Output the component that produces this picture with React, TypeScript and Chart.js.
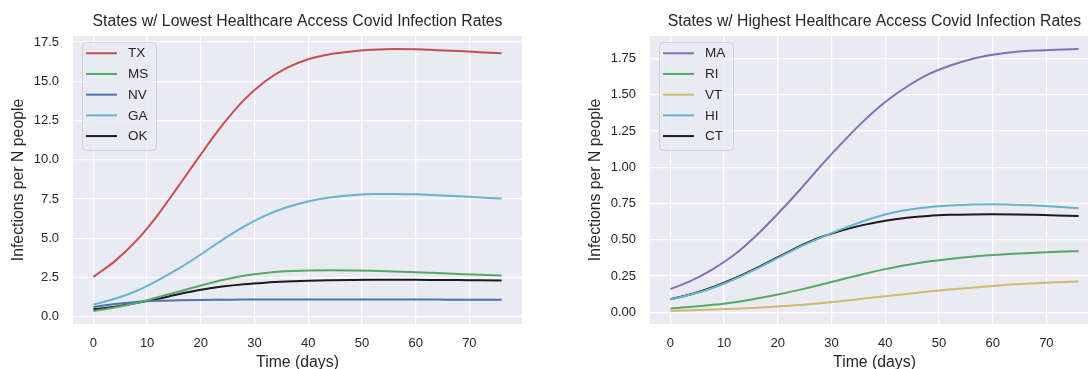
import React, { useEffect, useRef } from "react";
import { Chart, registerables } from "chart.js";

Chart.register(...registerables);

const FONT = "'Liberation Sans', Arial, sans-serif";
const TEXT = "#262626";

// Time axis (days)
const days = [0, 4, 8, 12, 16, 20, 24, 28, 32, 36, 40, 44, 48, 52, 56, 60, 64, 68, 72, 76];
const xTicks = [0, 10, 20, 30, 40, 50, 60, 70];

// Lowest access panel
const lowTitle = "States w/ Lowest Healthcare Access Covid Infection Rates";
const lowLabels = ["TX", "MS", "NV", "GA", "OK"];
const lowColors = ["#C44E52", "#55A868", "#4C72B0", "#64B5CD", "#1A1A1A"];
const txVals = [2.55, 3.55, 4.85, 6.5, 8.4, 10.35, 12.2, 13.8, 15.0, 15.85, 16.4, 16.72, 16.9, 17.0, 17.05, 17.03, 16.98, 16.92, 16.85, 16.78];
const msVals = [0.38, 0.6, 0.88, 1.25, 1.62, 2.0, 2.35, 2.62, 2.8, 2.9, 2.95, 2.97, 2.96, 2.93, 2.89, 2.84, 2.79, 2.73, 2.68, 2.63];
const nvVals = [0.63, 0.82, 0.95, 1.02, 1.06, 1.08, 1.09, 1.1, 1.1, 1.1, 1.1, 1.1, 1.1, 1.1, 1.1, 1.1, 1.1, 1.09, 1.09, 1.09];
const gaVals = [0.79, 1.15, 1.65, 2.33, 3.1, 3.97, 4.9, 5.75, 6.45, 6.98, 7.35, 7.6, 7.75, 7.82, 7.83, 7.8, 7.75, 7.68, 7.6, 7.53];
const okVals = [0.48, 0.65, 0.88, 1.15, 1.45, 1.72, 1.93, 2.08, 2.18, 2.25, 2.3, 2.33, 2.35, 2.36, 2.36, 2.36, 2.35, 2.34, 2.33, 2.32];
const lowYTicks = [0, 2.5, 5, 7.5, 10, 12.5, 15, 17.5];

// Highest access panel
const highTitle = "States w/ Highest Healthcare Access Covid Infection Rates";
const highLabels = ["MA", "RI", "VT", "HI", "CT"];
const highColors = ["#8172B2", "#55A868", "#CCB974", "#64B5CD", "#1A1A1A"];
const maVals = [0.16, 0.22, 0.3, 0.4, 0.53, 0.68, 0.84, 1.01, 1.17, 1.32, 1.45, 1.555, 1.64, 1.7, 1.745, 1.775, 1.795, 1.805, 1.81, 1.815];
const riVals = [0.027, 0.038, 0.052, 0.07, 0.095, 0.123, 0.155, 0.19, 0.228, 0.265, 0.298, 0.327, 0.35, 0.368, 0.383, 0.395, 0.404, 0.411, 0.417, 0.422];
const vtVals = [0.01, 0.014, 0.019, 0.025, 0.032, 0.04, 0.05, 0.063, 0.078, 0.095, 0.111, 0.127, 0.143, 0.157, 0.17, 0.182, 0.193, 0.201, 0.207, 0.212];
const hiVals = [0.09, 0.125, 0.17, 0.23, 0.3, 0.375, 0.45, 0.515, 0.575, 0.63, 0.675, 0.705, 0.725, 0.737, 0.744, 0.745, 0.742, 0.736, 0.728, 0.718];
const ctVals = [0.09, 0.127, 0.175, 0.235, 0.305, 0.38, 0.455, 0.518, 0.565, 0.603, 0.632, 0.652, 0.665, 0.672, 0.675, 0.676, 0.675, 0.672, 0.668, 0.664];
const highYTicks = [0, 0.25, 0.5, 0.75, 1.0, 1.25, 1.5, 1.75];

const xLabel = "Time (days)";
const yLabel = "Infections per N people";

const bgPlugin = {
  id: "axesBg",
  beforeDraw(chart: any) {
    const { ctx, chartArea } = chart;
    ctx.save();
    ctx.fillStyle = "#EAEAF2";
    ctx.fillRect(chartArea.left, chartArea.top, chartArea.right - chartArea.left, chartArea.bottom - chartArea.top);
    ctx.restore();
  },
};

const legendPlugin = {
  id: "innerLegend",
  afterDatasetsDraw(chart: any) {
    const { ctx, chartArea } = chart;
    const x0 = Math.round(chartArea.left + 9);
    const y0 = Math.round(chartArea.top + 6);
    const w = 74;
    const h = 108;
    ctx.save();
    ctx.beginPath();
    (ctx as any).roundRect(x0 + 0.5, y0 + 0.5, w, h, 4);
    ctx.fillStyle = "rgba(234,234,242,0.85)";
    ctx.fill();
    ctx.strokeStyle = "rgba(204,204,204,0.8)";
    ctx.lineWidth = 1;
    ctx.stroke();
    ctx.font = `13.5px ${FONT}`;
    ctx.textBaseline = "middle";
    ctx.textAlign = "left";
    chart.data.datasets.forEach((ds: any, i: number) => {
      const y = chartArea.top + 17.3 + i * 20.7;
      ctx.beginPath();
      ctx.strokeStyle = ds.borderColor;
      ctx.lineWidth = 2;
      ctx.moveTo(chartArea.left + 13, y);
      ctx.lineTo(chartArea.left + 44, y);
      ctx.stroke();
      ctx.fillStyle = TEXT;
      ctx.fillText(ds.label, chartArea.left + 55, y + 0.5);
    });
    ctx.restore();
  },
};

type PanelProps = {
  left: number;
  width: number;
  title: string;
  labels: string[];
  colors: string[];
  series: number[][];
  yTicks: number[];
  yDecimals: number;
  padLeft: number;
  padRight: number;
};

function Panel({ left, width, title, labels, colors, series, yTicks, yDecimals, padLeft, padRight }: PanelProps) {
  const ref = useRef<HTMLCanvasElement>(null);
  useEffect(() => {
    if (!ref.current) return;
    const all = series.flat();
    const lo = Math.min(...all);
    const hi = Math.max(...all);
    const ym = (hi - lo) * 0.05;
    const xm = (days[days.length - 1] - days[0]) * 0.05;
    const chart = new Chart(ref.current, {
      type: "line",
      data: {
        datasets: labels.map((l, i) => ({
          label: l,
          data: days.map((d, j) => ({ x: d, y: series[i][j] })),
          borderColor: colors[i],
          backgroundColor: colors[i],
          borderWidth: 2,
          pointRadius: 0,
          cubicInterpolationMode: "monotone" as const,
          fill: false,
        })),
      },
      options: {
        animation: false,
        responsive: false,
        maintainAspectRatio: false,
        events: [],
        layout: { padding: { left: padLeft, right: padRight, top: 0, bottom: 0 } },
        plugins: {
          legend: { display: false },
          tooltip: { enabled: false },
          title: {
            display: true,
            text: title,
            fullSize: false,
            color: TEXT,
            font: { family: FONT, size: 15.8, weight: "normal" as any, lineHeight: 1.2 },
            padding: { top: 12.5, bottom: 4.5 },
          },
        },
        scales: {
          x: {
            type: "linear",
            min: days[0] - xm,
            max: days[days.length - 1] + xm,
            afterBuildTicks: (s: any) => {
              s.ticks = xTicks.map((v) => ({ value: v }));
            },
            afterFit: (s: any) => {
              s.height = 45;
            },
            grid: { color: "#FFFFFF", lineWidth: 1.25, drawTicks: false },
            border: { display: false },
            ticks: {
              color: TEXT,
              font: { family: FONT, size: 13 },
              padding: 12,
              maxRotation: 0,
              autoSkip: false,
              callback: (v: any) => String(v),
            },
            title: {
              display: true,
              text: xLabel,
              color: TEXT,
              font: { family: FONT, size: 15.8, lineHeight: 0.75 },
              padding: { top: 0, bottom: 0 },
            },
          },
          y: {
            type: "linear",
            min: lo - ym,
            max: hi + ym,
            afterBuildTicks: (s: any) => {
              s.ticks = yTicks.map((v) => ({ value: v }));
            },
            afterFit: (s: any) => {
              s.width = 73;
            },
            grid: { color: "#FFFFFF", lineWidth: 1.25, drawTicks: false },
            border: { display: false },
            ticks: {
              color: TEXT,
              font: { family: FONT, size: 13 },
              padding: 14,
              autoSkip: false,
              callback: (v: any) => Number(v).toFixed(yDecimals),
            },
            title: {
              display: true,
              text: yLabel,
              color: TEXT,
              font: { family: FONT, size: 15.8, lineHeight: 1 },
              padding: { top: 11, bottom: 0 },
            },
          },
        },
      },
      plugins: [bgPlugin, legendPlugin],
    });
    return () => chart.destroy();
  }, []);
  return (
    <canvas
      ref={ref}
      width={width}
      height={369}
      style={{ position: "absolute", left, top: 0, width, height: 369 }}
    />
  );
}

export default function App() {
  useEffect(() => {
    document.body.style.margin = "0";
    document.body.style.overflow = "hidden";
  }, []);
  return (
    <div
      style={{
        position: "absolute",
        left: 0,
        top: 0,
        width: 1088,
        height: 369,
        overflow: "hidden",
        background: "#FFFFFF",
      }}
    >
      <Panel
        left={0}
        width={544}
        title={lowTitle}
        labels={lowLabels}
        colors={lowColors}
        series={[txVals, msVals, nvVals, gaVals, okVals]}
        yTicks={lowYTicks}
        yDecimals={1}
        padLeft={0}
        padRight={22}
      />
      <Panel
        left={544}
        width={560}
        title={highTitle}
        labels={highLabels}
        colors={highColors}
        series={[maVals, riVals, vtVals, hiVals, ctVals]}
        yTicks={highYTicks}
        yDecimals={2}
        padLeft={33}
        padRight={5}
      />
    </div>
  );
}
